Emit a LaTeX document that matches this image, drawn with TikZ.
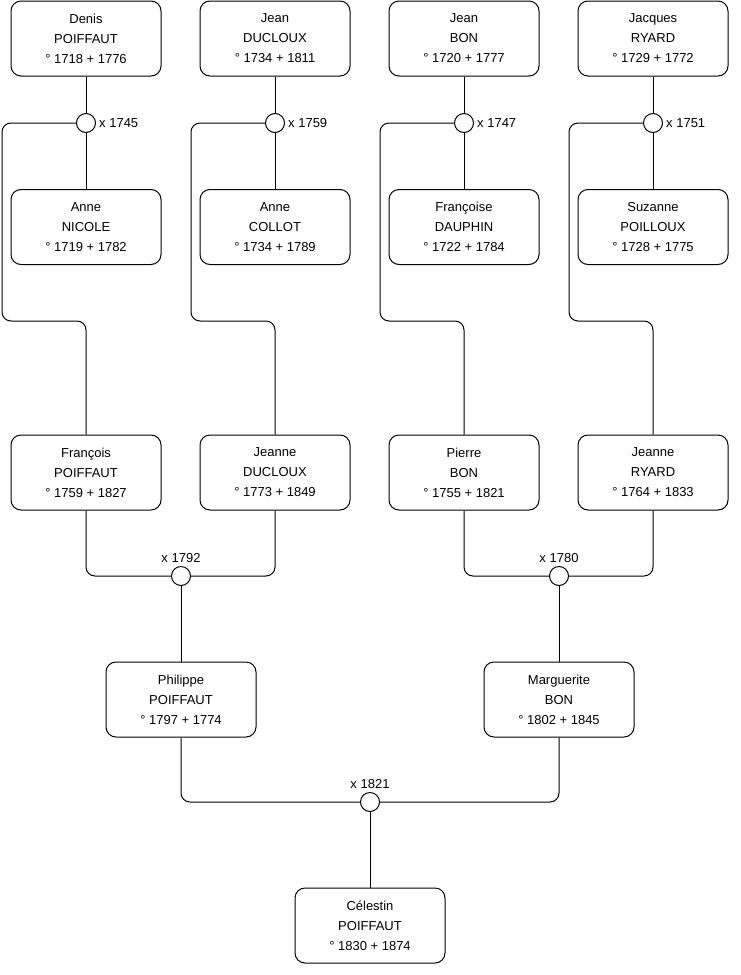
\documentclass[tikz,border=0pt]{standalone}
\usepackage{fontspec}
\setmainfont{Liberation Sans}
\begin{document}
\begin{tikzpicture}[x=1pt, y=-1pt,
        person/.style={rectangle, draw, rounded corners=10pt, line width=1pt, minimum width=150pt, minimum height=75pt, align=center, inner sep=0pt, font=\fontsize{13}{20}\selectfont},
        wed/.style={circle, draw, fill=white, line width=1pt, minimum size=19pt, inner sep=0pt},
        date/.style={inner sep=3pt, font=\fontsize{13}{15}\selectfont},
        link/.style={draw, line width=1pt, rounded corners=9pt}
    ]
        \useasboundingbox (0,0) rectangle (740,975);

        % grandparents
        \node[person] (denis) at (86, 38.5) {Denis\\POIFFAUT\\° 1718 + 1776};
        \node[person] (jeanD) at (275, 38.5) {Jean\\DUCLOUX\\° 1734 + 1811};
        \node[person] (jeanB) at (464, 38.5) {Jean\\BON\\° 1720 + 1777};
        \node[person] (jacques) at (653, 38.5) {Jacques\\RYARD\\° 1729 + 1772};

        \node[wed, label={[date]right:x 1745}] (m1745) at (86, 123) {};
        \node[wed, label={[date]right:x 1759}] (m1759) at (275, 123) {};
        \node[wed, label={[date]right:x 1747}] (m1747) at (464, 123) {};
        \node[wed, label={[date]right:x 1751}] (m1751) at (653, 123) {};

        \node[person] (anneN) at (86, 227) {Anne\\NICOLE\\° 1719 + 1782};
        \node[person] (anneC) at (275, 227) {Anne\\COLLOT\\° 1734 + 1789};
        \node[person] (francoise) at (464, 227) {Françoise\\DAUPHIN\\° 1722 + 1784};
        \node[person] (suzanne) at (653, 227) {Suzanne\\POILLOUX\\° 1728 + 1775};

        \coordinate (bend1) at (2, 321);
        \coordinate (bend2) at (191, 321);
        \coordinate (bend3) at (380, 321);
        \coordinate (bend4) at (569, 321);

        % parents
        \node[person] (francois) at (86, 472.5) {François\\POIFFAUT\\° 1759 + 1827};
        \node[person] (jeanneD) at (275, 472.5) {Jeanne\\DUCLOUX\\° 1773 + 1849};
        \node[person] (pierre) at (464, 472.5) {Pierre\\BON\\° 1755 + 1821};
        \node[person] (jeanneR) at (653, 472.5) {Jeanne\\RYARD\\° 1764 + 1833};

        \node[wed, label={[date]above:x 1792}] (m1792) at (181, 576) {};
        \node[wed, label={[date]above:x 1780}] (m1780) at (559, 576) {};

        \node[person] (philippe) at (181, 699.5) {Philippe\\POIFFAUT\\° 1797 + 1774};
        \node[person] (marguerite) at (559, 699.5) {Marguerite\\BON\\° 1802 + 1845};

        \node[wed, label={[date]above:x 1821}] (m1821) at (370, 802) {};

        \node[person] (celestin) at (370, 925.5) {Célestin\\POIFFAUT\\° 1830 + 1874};

        \draw[link] (denis) -- (m1745);
        \draw[link] (m1745) -- (anneN);
        \draw[link] (jeanD) -- (m1759);
        \draw[link] (m1759) -- (anneC);
        \draw[link] (jeanB) -- (m1747);
        \draw[link] (m1747) -- (francoise);
        \draw[link] (jacques) -- (m1751);
        \draw[link] (m1751) -- (suzanne);

        \draw[link] (m1745.west) -| (bend1) -| (francois.north);
        \draw[link] (m1759.west) -| (bend2) -| (jeanneD.north);
        \draw[link] (m1747.west) -| (bend3) -| (pierre.north);
        \draw[link] (m1751.west) -| (bend4) -| (jeanneR.north);

        \draw[link] (francois.south) |- (m1792.west);
        \draw[link] (jeanneD.south) |- (m1792.east);
        \draw[link] (pierre.south) |- (m1780.west);
        \draw[link] (jeanneR.south) |- (m1780.east);

        \draw[link] (m1792) -- (philippe);
        \draw[link] (m1780) -- (marguerite);
        \draw[link] (philippe.south) |- (m1821.west);
        \draw[link] (marguerite.south) |- (m1821.east);
        \draw[link] (m1821) -- (celestin);
    \end{tikzpicture}
\end{document}
